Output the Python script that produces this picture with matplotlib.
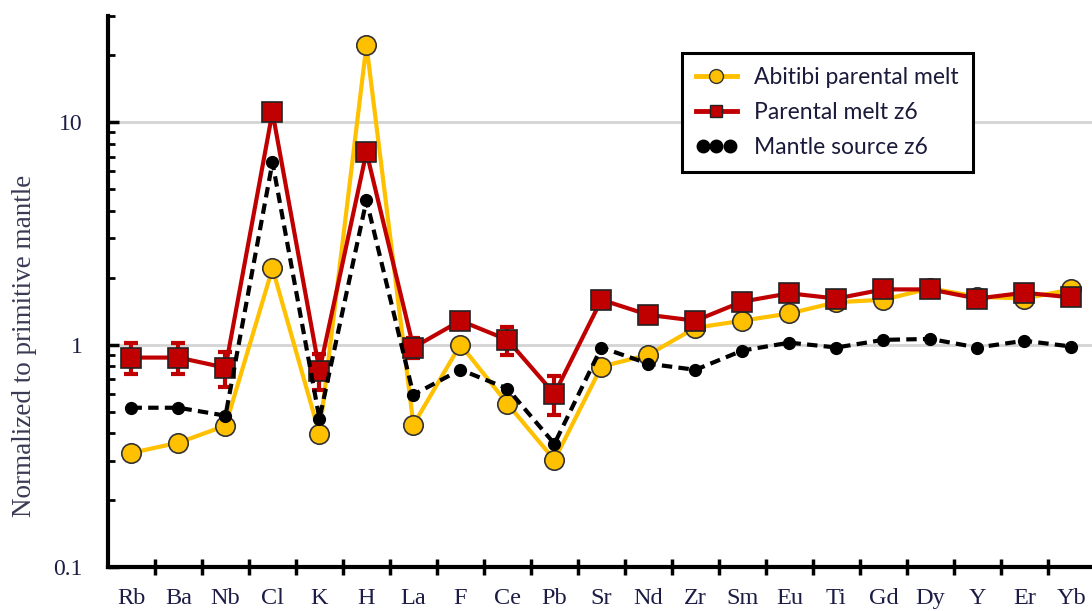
import numpy as np
import matplotlib
matplotlib.use("Agg")
import matplotlib.pyplot as plt
from matplotlib.lines import Line2D
from matplotlib.legend_handler import HandlerLine2D
from matplotlib.ticker import LogLocator, NullFormatter, FixedLocator

elements = ["Rb", "Ba", "Nb", "Cl", "K", "H", "La", "F", "Ce", "Pb", "Sr",
            "Nd", "Zr", "Sm", "Eu", "Ti", "Gd", "Dy", "Y", "Er", "Yb"]

abitibi = [0.326, 0.362, 0.432, 2.20, 0.397, 22.2, 0.436, 1.00, 0.542, 0.303, 0.796,
           0.90, 1.19, 1.28, 1.38, 1.55, 1.59, 1.79, 1.64, 1.61, 1.77]

parental_z6 = [0.874, 0.874, 0.787, 11.1, 0.763, 7.33, 0.97, 1.28, 1.05, 0.60, 1.59,
               1.36, 1.28, 1.56, 1.70, 1.61, 1.77, 1.77, 1.61, 1.71, 1.63]
parental_z6_err = [0.14, 0.14, 0.14, 0.6, 0.14, 0.4, 0.10, 0.08, 0.15, 0.12, 0.08,
                   0.07, 0.06, 0.08, 0.08, 0.07, 0.08, 0.08, 0.07, 0.08, 0.07]

mantle_z6 = [0.52, 0.52, 0.479, 6.6, 0.464, 4.45, 0.595, 0.771, 0.634, 0.358, 0.97,
             0.82, 0.77, 0.94, 1.02, 0.97, 1.05, 1.06, 0.97, 1.04, 0.98]

YELLOW = "#FFC000"
RED = "#C00000"
TXT = "#1c1c45"

fig = plt.figure(figsize=(10.92, 6.11), dpi=100)
ax = fig.add_axes([108 / 1092, 1 - 567 / 611, 1 - 108 / 1092, (567 - 16) / 611])

x = np.arange(len(elements))

ax.plot(x, abitibi, color=YELLOW, lw=3, marker="o", ms=14, mfc=YELLOW,
        mec="#333333", mew=1.2, zorder=3)

ax.errorbar(x, parental_z6, yerr=parental_z6_err, fmt="none", ecolor=RED,
            elinewidth=3, capsize=5, capthick=3, zorder=4)
ax.plot(x, parental_z6, color=RED, lw=3, marker="s", ms=14, mfc=RED,
        mec="#222222", mew=1.2, zorder=4)

ax.plot(x, mantle_z6, color="black", lw=3, ls=(0, (2.5, 1.5)), marker="o",
        ms=8.5, mfc="black", mec="black", zorder=5)

ax.set_yscale("log")
ax.set_ylim(0.1, 30)
ax.set_xlim(-0.5, 20.44)

ax.set_yticks([0.1, 1, 10])
ax.set_yticklabels(["0.1", "1", "10"])
ax.yaxis.set_minor_locator(LogLocator(base=10, subs=np.arange(2, 10)))
ax.yaxis.set_minor_formatter(NullFormatter())
ax.tick_params(axis="y", which="major", direction="in", length=8, width=2.5,
               pad=18, labelsize=17, labelcolor=TXT)
ax.tick_params(axis="y", which="minor", direction="in", length=5, width=2)

# category labels centred, tick marks on the boundaries between them
ax.set_xticks(x)
ax.set_xticklabels(elements)
ax.xaxis.set_minor_locator(FixedLocator(np.arange(0.5, len(elements) - 1, 1.0)))
ax.tick_params(axis="x", which="major", length=0, pad=15, labelsize=17.5,
               labelcolor=TXT)
ax.tick_params(axis="x", which="minor", direction="inout", length=12, width=2.5)

for lbl in ax.get_xticklabels() + ax.get_yticklabels():
    lbl.set_family("Liberation Serif")

ax.yaxis.grid(True, which="major", color="#d4d4d4", lw=2, zorder=0)
ax.set_axisbelow(True)

for side in ("top", "right"):
    ax.spines[side].set_visible(False)
for side in ("left", "bottom"):
    ax.spines[side].set_linewidth(3)
    ax.spines[side].set_zorder(6)

ax.set_ylabel("Normalized to primitive mantle", family="Liberation Serif",
              fontsize=19.5, color="#3a3a55")
ax.yaxis.set_label_coords(-0.072, 0.401)

h_ab = Line2D([], [], color=YELLOW, lw=3.5, marker="o", ms=10, mfc=YELLOW,
              mec="#333333", mew=1)
h_pm = Line2D([], [], color=RED, lw=3.5, marker="s", ms=9, mfc=RED,
              mec="#222222", mew=1)
h_ms = Line2D([], [], color="black", lw=3, ls=(0, (1.5, 1.5)), marker="o",
              ms=9, mfc="black")

leg = fig.legend([h_ab, h_pm, h_ms],
                 ["Abitibi parental melt", "Parental melt z6", "Mantle source z6"],
                 handler_map={h_ms: HandlerLine2D(numpoints=3)},
                 loc="upper left", bbox_to_anchor=(682 / 1092, 1 - 53 / 611),
                 borderaxespad=0, numpoints=1, handlelength=1.8,
                 handletextpad=0.75, labelspacing=0.62, borderpad=0.6,
                 fancybox=False, edgecolor="black", framealpha=1,
                 prop={"family": "Lato", "size": 16.5})
leg.get_frame().set_linewidth(2.2)
for t in leg.get_texts():
    t.set_color("#1a1a3a")

fig.savefig("out.png", dpi=100)
